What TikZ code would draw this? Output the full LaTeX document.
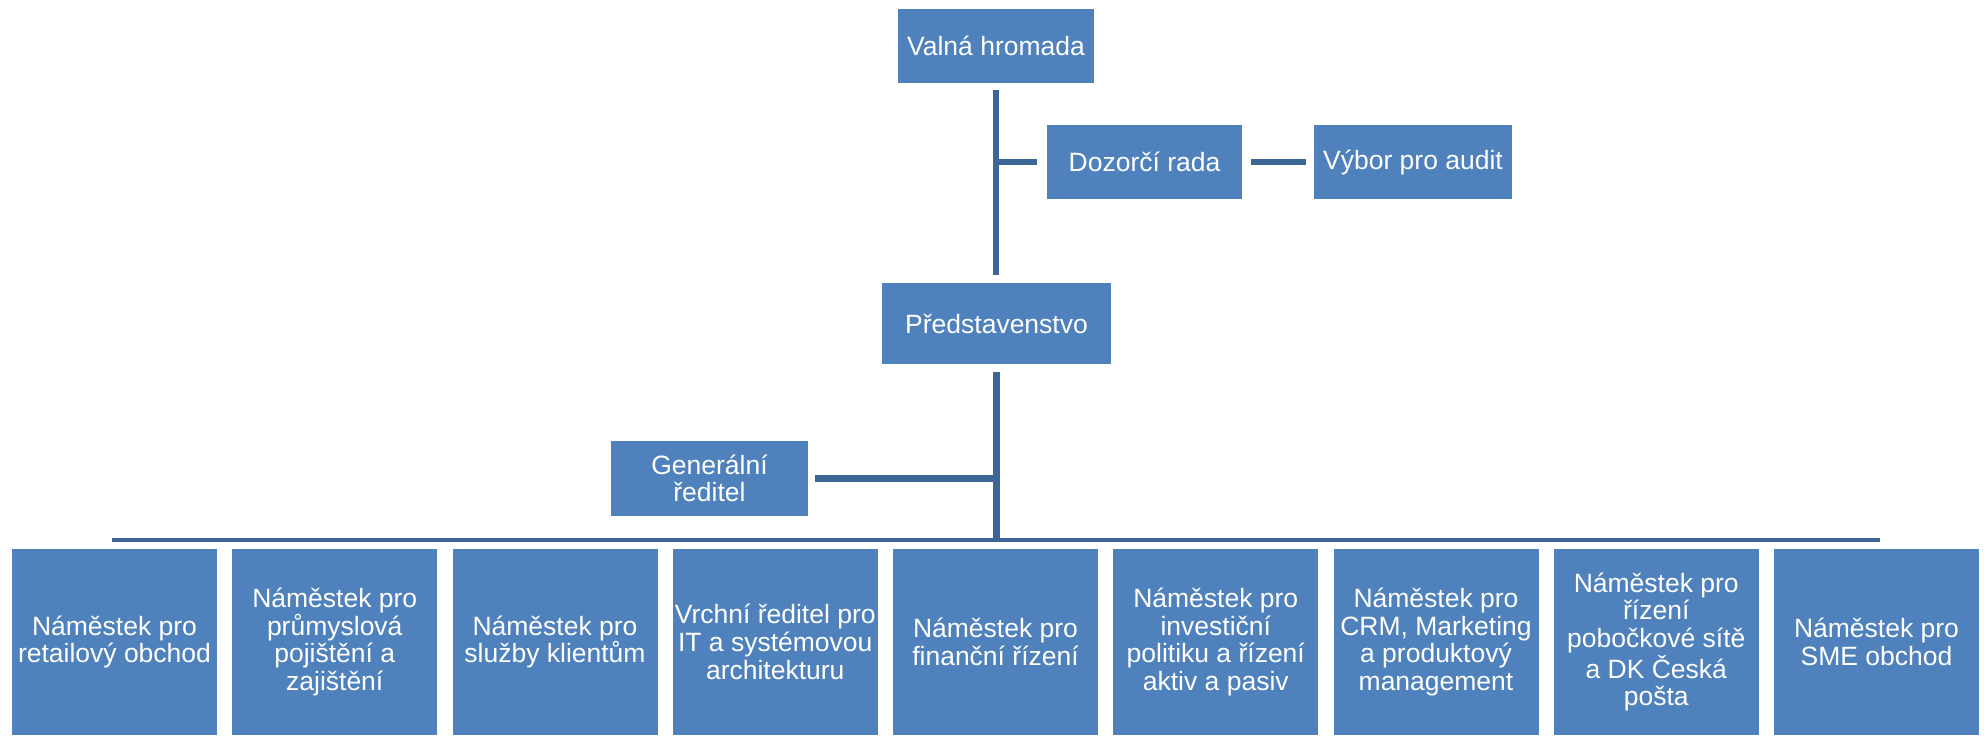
\documentclass[tikz,border=0pt]{standalone}
\usepackage{fontspec}
\setmainfont{Liberation Sans}
\definecolor{boxblue}{HTML}{4F81BD}
\definecolor{lineblue}{HTML}{3D6698}
\begin{document}
\begin{tikzpicture}[x=0.5pt,y=-0.5pt,
  org/.style={fill=boxblue, draw=none, text=white, inner sep=0pt, align=center,
    font=\fontsize{13.25}{13.85}\selectfont},
  topbox/.style={org, minimum height=37pt},
  lowbox/.style={org, minimum width=102.5pt, minimum height=93pt},
  conn/.style={draw=lineblue, line width=3.2pt},
  bus/.style={draw=lineblue, line width=1.6pt}]
\useasboundingbox (0,0) rectangle (1986,735);
% top level
\node[topbox, minimum width=98pt] (vh) at (996,46) {Valná hromada};
\node[topbox, minimum width=97.5pt] (dz) at (1144.5,162) {Dozorčí rada};
\node[topbox, minimum width=99pt] (vy) at (1413,162) {Výbor pro audit};
\node[org, minimum width=114.5pt, minimum height=40.5pt] (pr) at (996.5,323.5) {Představenstvo};
\node[topbox, minimum width=98.5pt, minimum height=37.5pt] (gr) at (709.5,478.5) {Generální\\ředitel};
% bottom row
\foreach \i/\t in {0/{Náměstek pro\\retailový obchod},
  1/{Náměstek pro\\průmyslová\\pojištění a\\zajištění},
  2/{Náměstek pro\\služby klientům},
  3/{Vrchní ředitel pro\\IT a systémovou\\architekturu},
  4/{Náměstek pro\\finanční řízení},
  5/{Náměstek pro\\investiční\\politiku a řízení\\aktiv a pasiv},
  6/{Náměstek pro\\CRM, Marketing\\a produktový\\management},
  7/{Náměstek pro\\řízení\\pobočkové sítě\\a DK Česká\\pošta},
  8/{Náměstek pro\\SME obchod}}
  \node[lowbox] (b\i) at ({114.5+220.25*\i},642) {\t};
% connectors
\coordinate (busL) at (112,540);
\coordinate (busR) at (1880,540);
\coordinate (busM) at (996.5,540);
\draw[conn] ([yshift=-3.5pt]vh.south) -- ([yshift=4pt]vh.south |- pr.north);
\draw[conn] (vh.south |- dz.west) -- ([xshift=-5pt]dz.west);
\draw[conn] ([xshift=4.5pt]dz.east) -- ([xshift=-4pt]vy.west);
\draw[conn] ([yshift=-4pt]pr.south) -- (busM);
\draw[conn] ([xshift=3.5pt]gr.east) -- (gr.east -| busM);
\draw[bus] (busL) -- (busR);
\end{tikzpicture}
\end{document}
